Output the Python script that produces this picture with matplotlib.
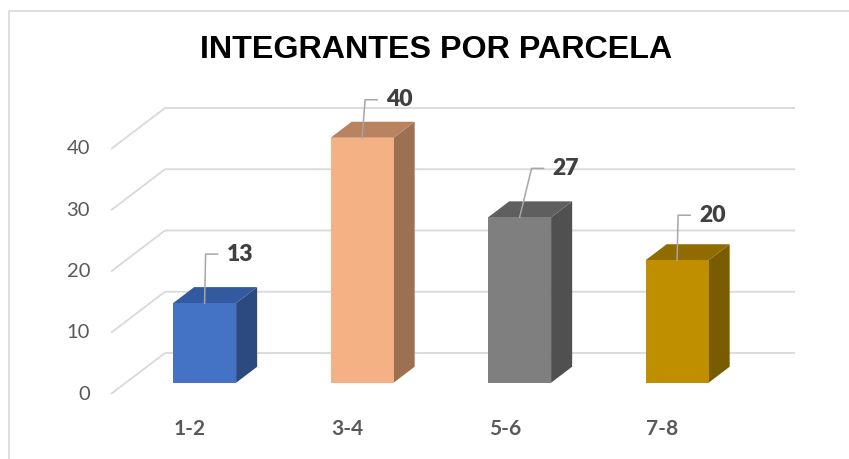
import matplotlib.pyplot as plt
from matplotlib.patches import Polygon
from matplotlib.lines import Line2D

# data
categories = ['1-2', '3-4', '5-6', '7-8']
values = [13, 40, 27, 20]
yticks = [0, 10, 20, 30, 40]
title = 'INTEGRANTES POR PARCELA'

front_colors = ['#4472C4', '#F4B183', '#7F7F7F', '#BF8F00']
top_colors = ['#335A9E', '#B9835F', '#5F5F5F', '#8F6B00']
side_colors = ['#2C4A80', '#9C7050', '#505050', '#7A5C00']

# pixel scale of the data units (figure is 849x459 at dpi 100)
PX_X = 157.5   # pixels per category
PX_Y = 6.125   # pixels per value unit

# oblique "3D" projection: depth 0 = front edge of floor, 1 = back wall
DX, DY = 54 / PX_X, 41 / PX_Y
BAR_Z0, BAR_Z1 = 0.275, 0.665
BAR_W = 0.4

# leader line offsets for the value labels (pixels)
lead_dx = [1, 3, 12, 1]
lead_dy = [49, 38, 49, 45]

def proj(x, v, z):
    return (x + z * DX, v + z * DY)

fig = plt.figure(figsize=(8.49, 4.59), dpi=100)
ax = fig.add_axes([0, 0, 1, 1])
ax.set_xlim(-111 / PX_X - 0.5, 738 / PX_X - 0.5)
ax.set_ylim(-65 / PX_Y, 394 / PX_Y)
ax.axis('off')

grid_c = '#D9D9D9'
x0, x1 = -0.5, len(categories) - 0.5
for t in yticks:
    fx, fv = proj(x0, t, 0)
    bx, bv = proj(x0, t, 1)
    ex, ev = proj(x1, t, 1)
    ax.plot([fx, bx, ex], [fv, bv, ev], color=grid_c, lw=1.3, zorder=1,
            solid_capstyle='butt')
    ax.text(fx - 21 / PX_X, fv, str(t), ha='right', va='center',
            fontsize=14.5, color='#595959', family='Lato')

for i, (v, c) in enumerate(zip(values, categories)):
    xl, xr = i - BAR_W / 2, i + BAR_W / 2
    front = [proj(xl, 0, BAR_Z0), proj(xr, 0, BAR_Z0), proj(xr, v, BAR_Z0), proj(xl, v, BAR_Z0)]
    side = [proj(xr, 0, BAR_Z0), proj(xr, 0, BAR_Z1), proj(xr, v, BAR_Z1), proj(xr, v, BAR_Z0)]
    top = [proj(xl, v, BAR_Z0), proj(xr, v, BAR_Z0), proj(xr, v, BAR_Z1), proj(xl, v, BAR_Z1)]
    ax.add_patch(Polygon(side, closed=True, fc=side_colors[i], ec='none', zorder=3))
    ax.add_patch(Polygon(top, closed=True, fc=top_colors[i], ec='none', zorder=3))
    ax.add_patch(Polygon(front, closed=True, fc=front_colors[i], ec='none', zorder=4))

    # value label with leader line
    cx, cv = proj(i, v, BAR_Z0)
    tx, tv = cx + lead_dx[i] / PX_X, cv + lead_dy[i] / PX_Y
    hx = tx + 12 / PX_X
    ax.plot([cx, tx, hx], [cv, tv, tv], color='#A6A6A6', lw=1.1, zorder=5)
    ax.text(hx + 9 / PX_X, tv, str(v), ha='left', va='center', fontsize=16.5,
            fontweight='heavy', color='#404040', family='Lato', zorder=6)

    ax.text(i, -35 / PX_Y, c, ha='center', va='center', fontsize=15,
            fontweight='bold', color='#595959', family='Lato')

fig.text(436 / 849, 1 - 50 / 459, title, ha='center', va='center',
         fontsize=23.2, fontweight='bold', color='black',
         family=['Liberation Sans', 'DejaVu Sans'])

# chart area border (top and left visible)
fig.add_artist(Line2D([9 / 849, 9 / 849, 1], [0, 1 - 11 / 459, 1 - 11 / 459],
                      transform=fig.transFigure, color=grid_c, lw=1.2))

fig.savefig('out.png', dpi=100)
